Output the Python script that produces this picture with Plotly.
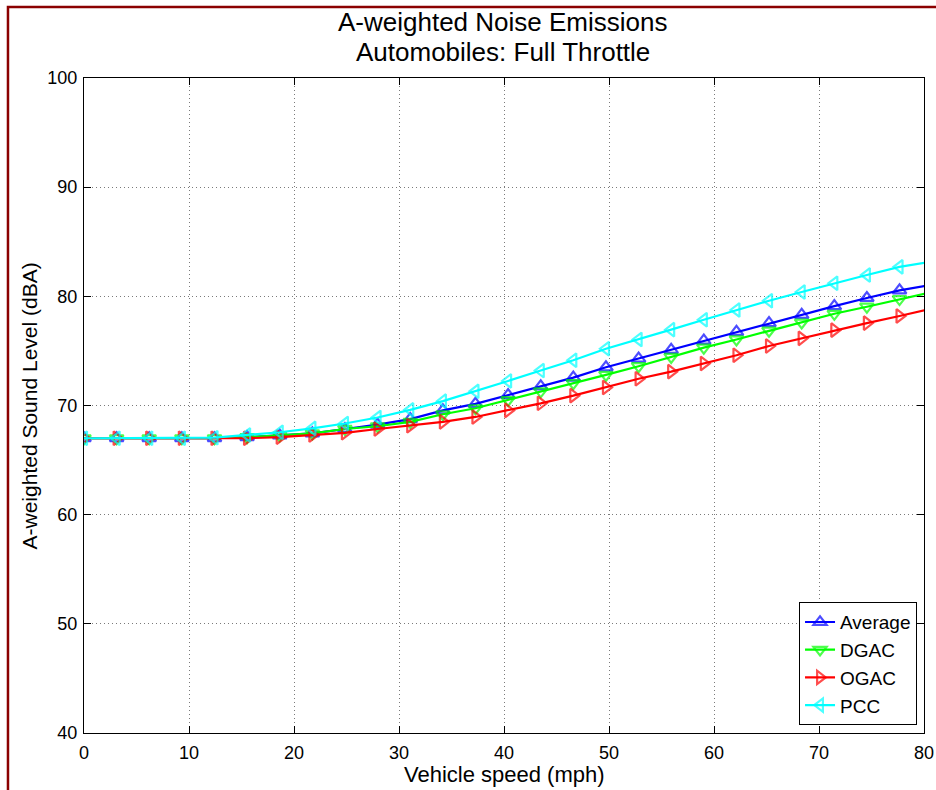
import plotly.graph_objects as go

# Vehicle speed (mph) at 5 km/h steps
speed_mph = [0.00, 3.11, 6.21, 9.32, 12.43, 15.53, 18.64, 21.75, 24.85, 27.96,
             31.07, 34.18, 37.28, 40.39, 43.50, 46.60, 49.71, 52.82, 55.92, 59.03,
             62.14, 65.24, 68.35, 71.46, 74.56, 77.67, 80.78]

average = [67.0, 67.0, 67.0, 67.0, 67.0, 67.1, 67.25, 67.45, 67.85, 68.25,
           68.75, 69.55, 70.15, 70.95, 71.75, 72.55, 73.5, 74.3, 75.1, 75.95,
           76.75, 77.55, 78.3, 79.1, 79.85, 80.55, 81.05]
dgac = [67.0, 67.0, 67.0, 67.0, 67.0, 67.1, 67.25, 67.45, 67.85, 68.1,
        68.5, 69.2, 69.75, 70.5, 71.3, 72.05, 72.8, 73.6, 74.45, 75.3,
        76.05, 76.85, 77.6, 78.4, 79.05, 79.75, 80.4]
ogac = [67.0, 67.0, 67.0, 67.0, 67.0, 67.0, 67.1, 67.3, 67.5, 67.85,
        68.15, 68.5, 68.95, 69.55, 70.2, 70.9, 71.65, 72.45, 73.1, 73.85,
        74.6, 75.45, 76.15, 76.9, 77.55, 78.2, 78.9]
pcc = [67.0, 67.0, 67.0, 67.0, 67.05, 67.3, 67.55, 67.9, 68.35, 68.9,
       69.6, 70.4, 71.3, 72.25, 73.2, 74.15, 75.2, 76.05, 76.95, 77.85,
       78.75, 79.6, 80.4, 81.2, 81.95, 82.7, 83.2]

series_names = ["Average", "DGAC", "OGAC", "PCC"]
series_values = [average, dgac, ogac, pcc]
series_colors = ["#0000FF", "#00FF00", "#FF0000", "#00FFFF"]
series_symbols = ["triangle-up-open", "triangle-down-open",
                  "triangle-right-open", "triangle-left-open"]

x_ticks = [0, 10, 20, 30, 40, 50, 60, 70, 80]
y_ticks = [40, 50, 60, 70, 80, 90, 100]

title_lines = ["A-weighted Noise Emissions", "Automobiles: Full Throttle"]
x_title = "Vehicle speed (mph)"
y_title = "A-weighted Sound Level (dBA)"

FONT = "Liberation Sans, Arial, sans-serif"

fig = go.Figure()
for name, vals, col, sym in zip(series_names, series_values, series_colors, series_symbols):
    # last point lies beyond the 80 mph axis limit: line only, no marker
    sizes = [12] * (len(speed_mph) - 1) + [0]
    fig.add_trace(go.Scatter(
        x=speed_mph, y=vals, name=name, mode="lines+markers",
        line=dict(color=col, width=2.2),
        marker=dict(symbol=sym, size=sizes, color=col, line=dict(color=col, width=2.2)),
    ))

axis_common = dict(
    showline=True, linecolor="black", linewidth=1, mirror="ticks",
    ticks="inside", ticklen=7, tickcolor="black", automargin=False,
    showgrid=True, gridcolor="#7a7a7a", gridwidth=1, griddash="1px,3px",
    zeroline=False, tickfont=dict(family=FONT, size=18, color="black"),
)

fig.update_xaxes(range=[0, 80], tickvals=x_ticks, ticklabelstandoff=3, **axis_common)
fig.update_yaxes(range=[40, 100], tickvals=y_ticks, ticklabelstandoff=2, **axis_common)

annotations = [
    dict(text=title_lines[0], x=0.4988, y=1.0855, xref="paper", yref="paper",
         xanchor="center", yanchor="middle", showarrow=False,
         font=dict(family=FONT, size=26, color="black")),
    dict(text=title_lines[1], x=0.4988, y=1.0397, xref="paper", yref="paper",
         xanchor="center", yanchor="middle", showarrow=False,
         font=dict(family=FONT, size=26, color="black")),
    dict(text=x_title, x=0.5, y=-0.0641, xref="paper", yref="paper",
         xanchor="center", yanchor="middle", showarrow=False,
         font=dict(family=FONT, size=22, color="black")),
    dict(text=y_title, x=-0.0643, y=0.5, xref="paper", yref="paper",
         xanchor="center", yanchor="middle", showarrow=False, textangle=-90,
         font=dict(family=FONT, size=21, color="black")),
]

fig.update_layout(
    width=936, height=790,
    margin=dict(l=84, r=12, t=78, b=57, autoexpand=False),
    paper_bgcolor="white", plot_bgcolor="white",
    legend=dict(x=0.9917, y=0.012, xanchor="right", yanchor="bottom",
                bgcolor="white", bordercolor="black", borderwidth=1,
                font=dict(family=FONT, size=19, color="black"),
                tracegroupgap=0),
    showlegend=True,
    annotations=annotations,
    shapes=[dict(type="rect", xref="paper", yref="paper",
                 x0=-0.0905, x1=1.3, y0=-0.3, y1=1.1084,
                 line=dict(color="#8B0000", width=2.5), layer="above")],
)

fig.write_html("out.html", config={"displayModeBar": False},
               post_script="document.body.style.margin='0';document.body.style.overflow='hidden';")
